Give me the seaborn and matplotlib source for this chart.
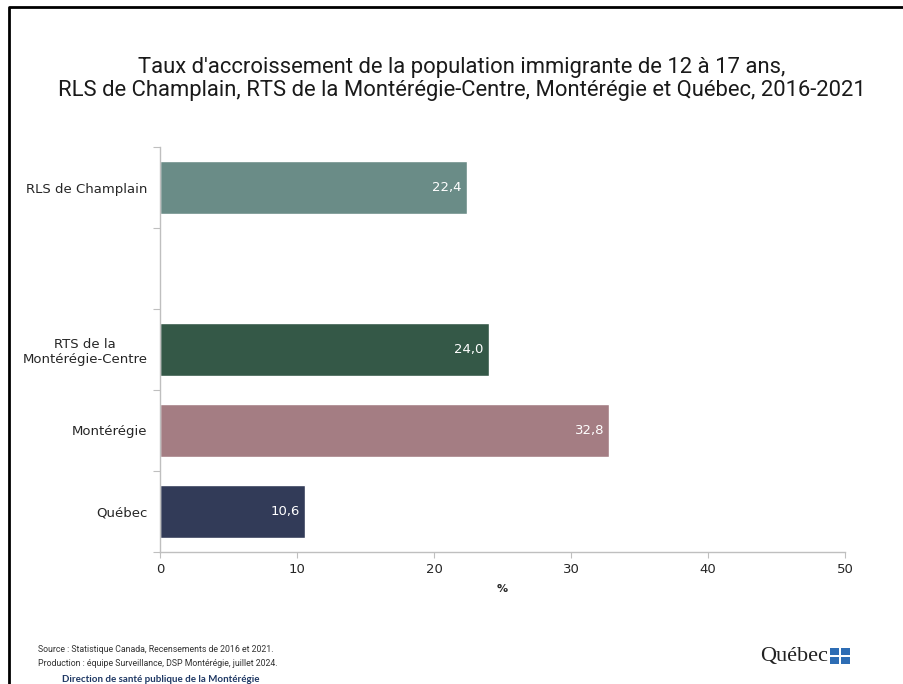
import matplotlib.pyplot as plt
import matplotlib.patches as mpatches
from matplotlib.lines import Line2D
import pandas as pd
import seaborn as sns

# data
categories = ["RLS de Champlain", "RTS de la\nMontérégie-Centre", "Montérégie", "Québec"]
values = [22.4, 24.0, 32.8, 10.6]
value_labels = ["22,4", "24,0", "32,8", "10,6"]
bar_colors = ["#6A8C87", "#345847", "#A47D83", "#323B58"]
slot_order = ["RLS de Champlain", " ", "RTS de la\nMontérégie-Centre", "Montérégie", "Québec"]
x_ticks = [0, 10, 20, 30, 40, 50]

title = ("Taux d'accroissement de la population immigrante de 12 à 17 ans,\n"
         "RLS de Champlain, RTS de la Montérégie-Centre, Montérégie et Québec, 2016-2021")
source_lines = ["Source : Statistique Canada, Recensements de 2016 et 2021.",
                "Production : équipe Surveillance, DSP Montérégie, juillet 2024."]
direction = "Direction de santé publique de la Montérégie"

df = pd.DataFrame({"region": categories, "taux": values})

sns.set_theme(style="white")
plt.rcParams["font.family"] = ["DejaVu Sans"]

fig = plt.figure(figsize=(9.04, 6.84), dpi=100)
ax = fig.add_axes([160 / 904, 1 - 552 / 684, 685 / 904, 405 / 684])

sns.barplot(data=df, x="taux", y="region", hue="region", order=slot_order,
            palette=dict(zip(categories, bar_colors)), width=0.65,
            legend=False, saturation=1, ax=ax)

for cont, lab in zip(ax.containers, value_labels):
    ax.bar_label(cont, labels=[lab], padding=-25, color="white", fontsize=9.5)

ax.set_xlim(0, 50)
ax.set_ylim(4.5, -0.5)
ax.set_xticks(x_ticks)
ax.set_xlabel("%", fontsize=8, fontweight="bold", labelpad=6)
ax.set_ylabel("")
ax.tick_params(axis="y", length=0, labelsize=9.5, pad=9)
ax.tick_params(axis="x", length=4, width=0.8, color="#BFBFBF", labelsize=9.5,
               pad=4, bottom=True)
for lbl in ax.get_yticklabels():
    lbl.set_multialignment("center")
ax.set_yticks([i + 0.5 for i in range(-1, 5)], minor=True)
ax.tick_params(axis="y", which="minor", length=5, width=0.8, color="#BFBFBF", left=True)
for s in ["top", "right"]:
    ax.spines[s].set_visible(False)
for s in ["left", "bottom"]:
    ax.spines[s].set_color("#BFBFBF")
    ax.spines[s].set_linewidth(1)

fig.text(462 / 904, 1 - 79 / 684, title, ha="center", va="center", fontsize=15.8,
         family="Roboto", color="#1A1A1A", linespacing=1.18)

fig.text(38 / 904, 1 - 650 / 684, source_lines[0], fontsize=6.3,
         family="Roboto", color="#333333", va="center")
fig.text(38 / 904, 1 - 663 / 684, source_lines[1], fontsize=6.3,
         family="Roboto", color="#333333", va="center")
fig.text(62 / 904, 1 - 680 / 684, direction, fontsize=7, family="Lato",
         fontweight="bold", color="#1F3864", va="center")

# Québec signature
fig.text(760 / 904, 1 - 656 / 684, "Québec", fontsize=16, family="Liberation Serif",
         color="#222222", va="center", ha="left")
for dx, dy in [(0, 0), (11, 0), (0, 9), (11, 9)]:
    fig.add_artist(mpatches.Rectangle(((830 + dx) / 904, 1 - (655 + dy) / 684),
                                      9 / 904, 7 / 684, transform=fig.transFigure,
                                      facecolor="#2E6DB4", edgecolor="none"))

# outer frame
fig.add_artist(Line2D([9 / 904, 9 / 904, 1], [0, 1 - 7 / 684, 1 - 7 / 684],
                      transform=fig.transFigure, color="black", linewidth=2))

fig.savefig("out.png", dpi=100)
